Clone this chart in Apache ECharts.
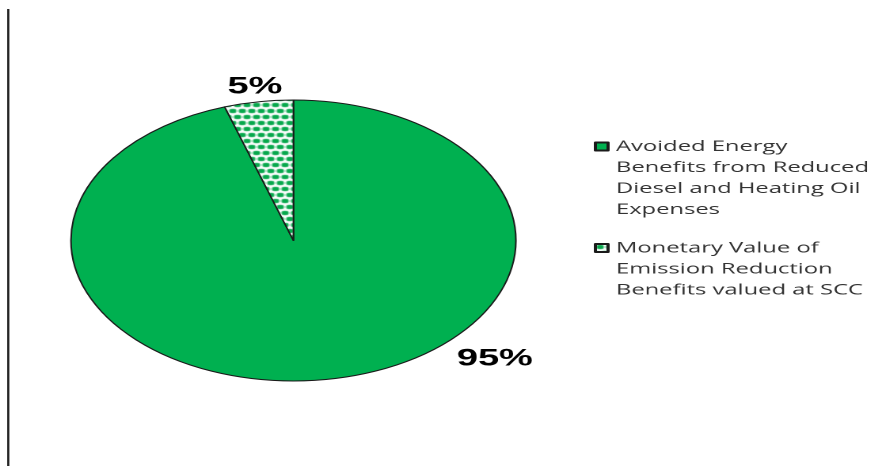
<!DOCTYPE html>
<html>
<head>
<meta charset="utf-8">
<script src="https://cdn.jsdelivr.net/npm/echarts@6/dist/echarts.min.js"></script>
<style>
  html, body { margin: 0; padding: 0; background: #fff; overflow: hidden; }
  #wrap { width: 882px; height: 466px; overflow: hidden; }
  /* the chart is laid out narrow and widened so the pie becomes an ellipse */
  #chart { width: 557px; height: 466px; transform: scaleX(1.58348); transform-origin: 0 0; }
</style>
</head>
<body>
<div id="wrap"><div id="chart"></div></div>
<script>
// Benefit categories, each as the lines shown in the legend
const categoryLines = [
  ['Avoided Energy', 'Benefits from Reduced', 'Diesel and Heating Oil', 'Expenses'],
  ['Monetary Value of', 'Emission Reduction', 'Benefits valued at SCC']
];
// Share of total benefits (percent)
const shares = [95, 5];

const categories = categoryLines.map(l => l.join(' '));

// Dotted tile used for the emission-reduction slice
function makeDotTile() {
  const c = document.createElement('canvas');
  c.width = 6; c.height = 12;
  const g = c.getContext('2d');
  g.fillStyle = '#ffffff';
  g.fillRect(0, 0, 6, 12);
  g.fillStyle = '#07a84c';
  const dots = [[3, 3], [0, 9], [6, 9]];
  dots.forEach(([x, y]) => {
    g.beginPath();
    g.ellipse(x, y, 2.5, 2.3, 0, 0, Math.PI * 2);
    g.fill();
  });
  return c;
}

const green = '#00b050';
const sliceColors = [green, { image: makeDotTile(), repeat: 'repeat' }];

const labelPos = [[312.5, 359], [161, 87]];

function legendFor(i, top) {
  const lines = categoryLines[i];
  // blank lines above keep the marker level with the first text line
  const pad = new Array(lines.length - 1).fill('').join('\n');
  return {
    orient: 'vertical',
    left: 375,
    top: top,
    padding: 0,
    itemWidth: 8,
    itemHeight: 8,
    icon: 'rect',
    selectedMode: false,
    data: [categories[i]],
    formatter: () => pad + '\n' + lines.join('\n'),
    textStyle: {
      fontFamily: 'Open Sans',
      fontSize: 15,
      lineHeight: 21,
      color: '#333333'
    }
  };
}

const chart = echarts.init(document.getElementById('chart'), null, { renderer: 'canvas', devicePixelRatio: 2 });

chart.setOption({
  animation: false,
  backgroundColor: '#ffffff',
  legend: [legendFor(0, 73), legendFor(1, 195.5)],
  graphic: [{
    type: 'line',
    shape: { x1: 5.2, y1: 9, x2: 5.2, y2: 466 },
    style: { stroke: '#1a1a1a', lineWidth: 1.3 },
    silent: true
  }],
  series: [{
    type: 'pie',
    center: [185.3, 240.5],
    radius: 140.5,
    startAngle: 90,
    clockwise: true,
    silent: true,
    data: categories.map((name, i) => ({
      name: name,
      value: shares[i],
      itemStyle: { color: sliceColors[i] }
    })),
    itemStyle: { borderColor: '#1a1a1a', borderWidth: 1 },
    label: {
      show: true,
      position: 'outside',
      formatter: '{d}%',
      fontFamily: 'Liberation Sans',
      fontWeight: 'bold',
      fontSize: 24,
      color: '#000000'
    },
    labelLine: { show: false },
    labelLayout: function (p) {
      const pos = labelPos[p.dataIndex];
      return { x: pos[0], y: pos[1], align: 'center', verticalAlign: 'middle' };
    }
  }]
});
</script>
</body>
</html>
